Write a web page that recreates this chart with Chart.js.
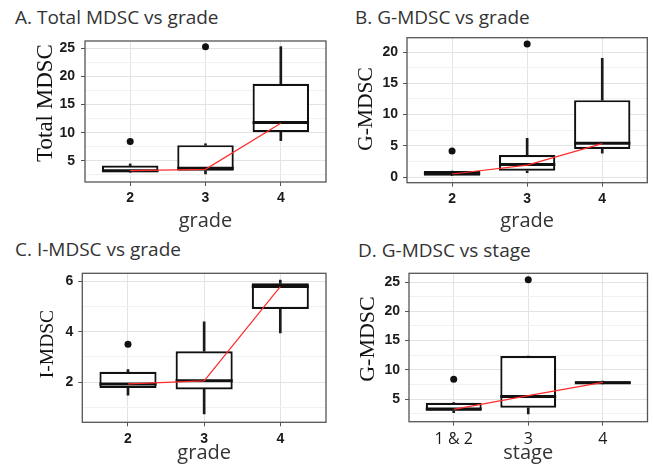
<!DOCTYPE html>
<html>
<head>
<meta charset="utf-8">
<script src="https://cdn.jsdelivr.net/npm/chart.js@4.4.0/dist/chart.umd.min.js"></script>
<style>
  body { margin: 0; background: #fff; width: 653px; height: 466px; position: relative; overflow: hidden; }
  canvas { position: absolute; }
  .ttl { position: absolute; font-family: "Open Sans", sans-serif; font-size: 19px; line-height: 1; color: #333; white-space: nowrap; }
  .ytl { position: absolute; font-family: "Liberation Serif", serif; line-height: 1; color: #111; white-space: nowrap;
         transform: translate(-50%, -50%) rotate(-90deg); z-index: 2; }
</style>
</head>
<body>
<div class="ttl" style="left:15px;top:8.1px">A. Total MDSC vs grade</div>
<div class="ttl" style="left:355px;top:8.1px">B. G-MDSC vs grade</div>
<div class="ttl" style="left:15px;top:239.8px">C. I-MDSC vs grade</div>
<div class="ttl" style="left:358px;top:240.8px">D. G-MDSC vs stage</div>

<div class="ytl" style="left:43.5px;top:102.5px;font-size:23px">Total MDSC</div>
<div class="ytl" style="left:365.8px;top:108.5px;font-size:21.5px">G-MDSC</div>
<div class="ytl" style="left:46.7px;top:343.5px;font-size:19.5px">I-MDSC</div>
<div class="ytl" style="left:366.7px;top:339px;font-size:22px">G-MDSC</div>

<canvas id="chartA" width="330" height="232" style="left:0;top:0"></canvas>
<canvas id="chartB" width="323" height="232" style="left:330px;top:0"></canvas>
<canvas id="chartC" width="330" height="234" style="left:0;top:232px"></canvas>
<canvas id="chartD" width="323" height="234" style="left:330px;top:232px"></canvas>

<script>
// === categories ===
const gradeLabels = ['2', '3', '4'];
const stageLabels = ['1 & 2', '3', '4'];
const xPos = [1, 2, 3];

// === A. Total MDSC vs grade ===
const totalLow  = [2.98, 2.68, 8.6];
const totalQ1   = [2.98, 3.27, 10.1];
const totalMed  = [3.25, 3.7, 11.8];
const totalQ3   = [4.16, 7.8, 18.7];
const totalHigh = [4.46, 8.04, 25.3];
const totalOut  = [[1, 8.45], [2, 25.3]];
const totalTrend = [3.27, 3.5, 11.7];

// === B. G-MDSC vs grade ===
const gGradeLow  = [0.2, 0.7, 3.8];
const gGradeQ1   = [0.21, 1.01, 4.49];
const gGradeMed  = [0.55, 2.0, 5.4];
const gGradeQ3   = [0.96, 3.53, 12.3];
const gGradeHigh = [0.96, 6.2, 19.0];
const gGradeOut  = [[1, 4.17], [2, 21.3]];
const gGradeTrend = [0.48, 1.9, 5.35];

// === C. I-MDSC vs grade ===
const iLow  = [1.48, 0.73, 3.96];
const iQ1   = [1.77, 1.71, 4.91];
const iMed  = [1.92, 2.05, 5.8];
const iQ3   = [2.41, 3.23, 5.93];
const iHigh = [2.5, 4.4, 6.06];
const iOut  = [[1, 3.51]];
const iTrend = [1.93, 2.05, 5.8];

// === D. G-MDSC vs stage ===
const gStageLow  = [2.65, 2.43, 7.6];
const gStageQ1   = [2.98, 3.5, 7.6];
const gStageMed  = [3.3, 5.45, 7.8];
const gStageQ3   = [4.37, 12.36, 8.05];
const gStageHigh = [4.37, 12.36, 8.05];
const gStageOut  = [[1, 8.37], [2, 25.4]];
const gStageTrend = [3.24, 5.57, 7.86];

// median bars drawn right after the box dataset
const medianLines = {
    id: 'medianLines',
    afterDatasetDraw(chart, args) {
        const ds = chart.data.datasets[args.index];
        if (!ds.medians) return;
        const ctx = chart.ctx;
        const y = chart.scales.y;
        ctx.save();
        ctx.strokeStyle = '#111';
        ctx.lineWidth = 3;
        args.meta.data.forEach((bar, i) => {
            const py = y.getPixelForValue(ds.medians[i]);
            ctx.beginPath();
            ctx.moveTo(bar.x - bar.width / 2, py);
            ctx.lineTo(bar.x + bar.width / 2, py);
            ctx.stroke();
        });
        ctx.restore();
    }
};

const panelBorder = {
    id: 'panelBorder',
    afterDraw(chart) {
        const a = chart.chartArea;
        const ctx = chart.ctx;
        ctx.save();
        ctx.strokeStyle = '#555';
        ctx.lineWidth = 1.3;
        ctx.strokeRect(a.left, a.top, a.right - a.left, a.bottom - a.top);
        ctx.restore();
    }
};

function isMajor(v, every) {
    const r = v / every;
    return Math.abs(r - Math.round(r)) < 1e-6;
}

function whisker(from, to) {
    return {
        data: from.map((v, i) => ({ x: xPos[i], y: [v, to[i]] })),
        backgroundColor: '#1a1a1a',
        barThickness: 2,
        grouped: false,
        order: 4
    };
}

function makePanel(id, p) {
    const canvas = document.getElementById(id);
    const W = canvas.width, H = canvas.height;
    new Chart(canvas, {
        type: 'bar',
        data: {
            datasets: [
                {
                    type: 'line',
                    data: p.trend.map((v, i) => ({ x: xPos[i], y: v })),
                    borderColor: '#ff2b2b',
                    borderWidth: 1.2,
                    pointRadius: 0,
                    order: 1
                },
                {
                    type: 'line',
                    showLine: false,
                    data: p.out.map(o => ({ x: o[0], y: o[1] })),
                    pointRadius: 3.5,
                    pointBackgroundColor: '#111',
                    pointBorderWidth: 0,
                    order: 2
                },
                {
                    data: p.q1.map((v, i) => ({ x: xPos[i], y: [v, p.q3[i]] })),
                    medians: p.med,
                    backgroundColor: '#fff',
                    borderColor: '#111',
                    borderWidth: 2.2,
                    borderSkipped: false,
                    barPercentage: 0.75,
                    categoryPercentage: 1,
                    grouped: false,
                    order: 3
                },
                whisker(p.low, p.q1),
                whisker(p.q3, p.high)
            ]
        },
        options: {
            responsive: false,
            animation: false,
            devicePixelRatio: 1,
            layout: { padding: { top: p.area.t, right: W - p.area.r, left: 0, bottom: 0 } },
            plugins: { legend: { display: false }, tooltip: { enabled: false } },
            scales: {
                x: {
                    type: 'linear',
                    min: 0.4,
                    max: 3.6,
                    offset: false,
                    afterFit: s => { s.height = H - p.area.b; },
                    grid: { offset: false, color: '#e3e3e3', lineWidth: 1, tickColor: '#555', tickLength: 4 },
                    border: { display: false },
                    ticks: {
                        stepSize: 1,
                        includeBounds: false,
                        autoSkip: false,
                        maxRotation: 0,
                        padding: 4,
                        color: '#1a1a1a',
                        font: p.xTickFont,
                        callback: v => p.labels[v - 1] ?? ''
                    },
                    title: {
                        display: true,
                        text: p.xTitle,
                        color: '#333',
                        font: { family: 'Open Sans', size: 20 },
                        padding: { top: 0, bottom: p.xTitlePad }
                    }
                },
                y: {
                    type: 'linear',
                    min: p.yMin,
                    max: p.yMax,
                    afterFit: s => { s.width = p.area.l; },
                    grid: {
                        color: c => isMajor(c.tick.value, p.major) ? '#e3e3e3' : '#f1f1f1',
                        lineWidth: 1,
                        tickColor: c => isMajor(c.tick.value, p.major) ? '#555' : 'rgba(0,0,0,0)',
                        tickLength: 4
                    },
                    border: { display: false },
                    ticks: {
                        stepSize: p.major / 2,
                        includeBounds: false,
                        autoSkip: false,
                        padding: p.yTickPad,
                        color: '#1a1a1a',
                        font: { family: 'Liberation Sans', size: 14, weight: 'bold' },
                        callback: v => isMajor(v, p.major) ? String(v) : ''
                    }
                }
            }
        },
        plugins: [medianLines, panelBorder]
    });
}

const boldTicks = { family: 'Liberation Sans', size: 14, weight: 'bold' };

makePanel('chartA', {
    labels: gradeLabels, low: totalLow, q1: totalQ1, med: totalMed, q3: totalQ3, high: totalHigh,
    out: totalOut, trend: totalTrend,
    yMin: 1.25, yMax: 26.3, major: 5, yTickPad: 6,
    xTitle: 'grade', xTitlePad: -1, xTickFont: boldTicks,
    area: { l: 85, t: 41, r: 327.6, b: 182 }
});

makePanel('chartB', {
    labels: gradeLabels, low: gGradeLow, q1: gGradeQ1, med: gGradeMed, q3: gGradeQ3, high: gGradeHigh,
    out: gGradeOut, trend: gGradeTrend,
    yMin: -0.91, yMax: 22.3, major: 5, yTickPad: 5,
    xTitle: 'grade', xTitlePad: -1, xTickFont: boldTicks,
    area: { l: 77, t: 37.7, r: 317.3, b: 182.7 }
});

makePanel('chartC', {
    labels: gradeLabels, low: iLow, q1: iQ1, med: iMed, q3: iQ3, high: iHigh,
    out: iOut, trend: iTrend,
    yMin: 0.4, yMax: 6.33, major: 2, yTickPad: 5,
    xTitle: 'grade', xTitlePad: 0.8, xTickFont: boldTicks,
    area: { l: 82.3, t: 41.3, r: 327.7, b: 190.3 }
});

makePanel('chartD', {
    labels: stageLabels, low: gStageLow, q1: gStageQ1, med: gStageMed, q3: gStageQ3, high: gStageHigh,
    out: gStageOut, trend: gStageTrend,
    yMin: 1.12, yMax: 26.5, major: 5, yTickPad: 5,
    xTitle: 'stage', xTitlePad: 0.8, xTickFont: { family: 'Open Sans', size: 16 },
    area: { l: 79, t: 41.3, r: 317.5, b: 189.7 }
});
</script>
</body>
</html>
